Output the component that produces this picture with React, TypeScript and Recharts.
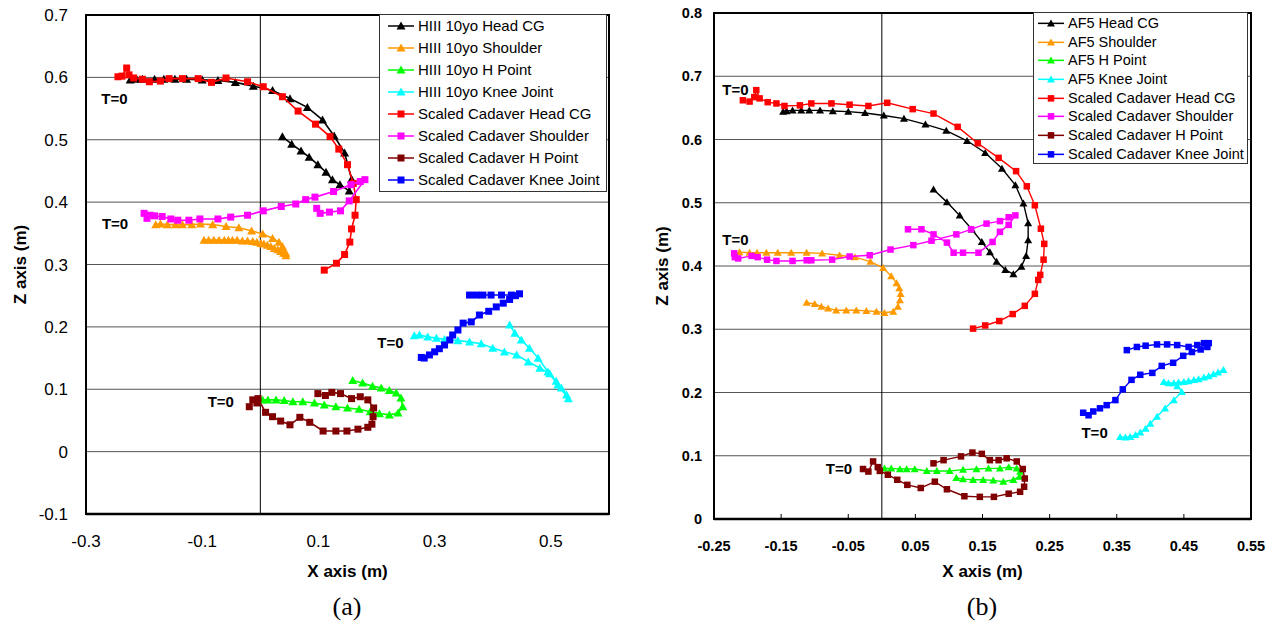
import React from 'react';
import {
  ScatterChart,
  Scatter,
  XAxis,
  YAxis,
  CartesianGrid,
  ReferenceLine,
  ReferenceArea,
  ReferenceDot,
  Legend,
} from 'recharts';

type P = [number, number];

// ---------------- Panel (a) ----------------
const namesA = [
  'HIII 10yo Head CG',
  'HIII 10yo Shoulder',
  'HIII 10yo H Point',
  'HIII 10yo Knee Joint',
  'Scaled Cadaver Head CG',
  'Scaled Cadaver Shoulder',
  'Scaled Cadaver H Point',
  'Scaled Cadaver Knee Joint',
];

const hiiiHeadA: P[] = [
  [-0.224, 0.596], [-0.213, 0.597], [-0.203, 0.597], [-0.182, 0.597], [-0.166, 0.597],
  [-0.147, 0.597], [-0.127, 0.597], [-0.100, 0.596], [-0.073, 0.595], [-0.043, 0.592],
  [-0.012, 0.586], [0.021, 0.579], [0.051, 0.566], [0.081, 0.552], [0.107, 0.532],
  [0.127, 0.506], [0.145, 0.479], [0.157, 0.437], [0.153, 0.418], [0.137, 0.428],
  [0.124, 0.436], [0.113, 0.448], [0.099, 0.460], [0.084, 0.472], [0.070, 0.482],
  [0.054, 0.493], [0.038, 0.505],
];

const hiiiShoulderA: P[] = [
  [-0.180, 0.364], [-0.172, 0.365], [-0.160, 0.364], [-0.146, 0.364], [-0.134, 0.364],
  [-0.118, 0.364], [-0.103, 0.365], [-0.082, 0.364], [-0.059, 0.361], [-0.037, 0.359],
  [-0.015, 0.354], [0.004, 0.349], [0.021, 0.342], [0.032, 0.336], [0.038, 0.329],
  [0.044, 0.318], [0.044, 0.314], [0.040, 0.318], [0.035, 0.321], [0.030, 0.324],
  [0.024, 0.326], [0.018, 0.329], [0.012, 0.331], [0.006, 0.333], [0.001, 0.334],
  [-0.006, 0.336], [-0.013, 0.337], [-0.022, 0.338], [-0.031, 0.338], [-0.040, 0.339],
  [-0.048, 0.339], [-0.055, 0.339], [-0.062, 0.339], [-0.071, 0.339], [-0.080, 0.339],
  [-0.089, 0.339], [-0.097, 0.339],
];

const hiiiHPointA: P[] = [
  [0.004, 0.083], [0.013, 0.083], [0.027, 0.083], [0.041, 0.082], [0.056, 0.080],
  [0.073, 0.080], [0.093, 0.078], [0.110, 0.075], [0.130, 0.072], [0.150, 0.070],
  [0.170, 0.068], [0.189, 0.064], [0.205, 0.061], [0.222, 0.059], [0.237, 0.062],
  [0.245, 0.072], [0.242, 0.086], [0.234, 0.094], [0.222, 0.098], [0.208, 0.102],
  [0.193, 0.105], [0.176, 0.110], [0.159, 0.114],
];

const hiiiKneeA: P[] = [
  [0.265, 0.186], [0.274, 0.187], [0.288, 0.184], [0.303, 0.182], [0.317, 0.180],
  [0.340, 0.178], [0.360, 0.176], [0.380, 0.173], [0.400, 0.166], [0.420, 0.160],
  [0.441, 0.155], [0.461, 0.144], [0.481, 0.134], [0.498, 0.125], [0.509, 0.113],
  [0.518, 0.102], [0.527, 0.091], [0.530, 0.085], [0.512, 0.107], [0.495, 0.128],
  [0.478, 0.150], [0.463, 0.166], [0.449, 0.179], [0.438, 0.190], [0.429, 0.203],
];

const cadHeadA: P[] = [
  [-0.245, 0.601], [-0.238, 0.602], [-0.230, 0.615], [-0.226, 0.604], [-0.218, 0.599],
  [-0.203, 0.597], [-0.191, 0.593], [-0.172, 0.594], [-0.157, 0.598], [-0.134, 0.598],
  [-0.107, 0.598], [-0.084, 0.592], [-0.059, 0.599], [-0.022, 0.593], [0.005, 0.585],
  [0.038, 0.569], [0.065, 0.546], [0.095, 0.525], [0.120, 0.505], [0.135, 0.485],
  [0.150, 0.460], [0.160, 0.430], [0.165, 0.404], [0.163, 0.379], [0.157, 0.357],
  [0.154, 0.336], [0.145, 0.316], [0.131, 0.302], [0.110, 0.291],
];

const cadShoulderA: P[] = [
  [-0.200, 0.382], [-0.195, 0.374], [-0.190, 0.379], [-0.182, 0.378], [-0.169, 0.377],
  [-0.154, 0.373], [-0.142, 0.371], [-0.123, 0.371], [-0.104, 0.373], [-0.073, 0.373],
  [-0.051, 0.376], [-0.022, 0.379], [0.005, 0.386], [0.036, 0.393], [0.061, 0.397],
  [0.078, 0.404], [0.094, 0.408], [0.126, 0.417], [0.156, 0.428], [0.172, 0.433],
  [0.180, 0.436], [0.153, 0.402], [0.138, 0.386], [0.119, 0.384], [0.103, 0.382],
  [0.097, 0.390],
];

const cadHPointA: P[] = [
  [-0.019, 0.072], [-0.013, 0.083], [-0.006, 0.078], [-0.004, 0.085], [0.009, 0.063],
  [0.021, 0.056], [0.035, 0.049], [0.051, 0.043], [0.068, 0.055], [0.085, 0.047],
  [0.108, 0.033], [0.130, 0.033], [0.149, 0.033], [0.168, 0.036], [0.185, 0.039],
  [0.192, 0.044], [0.194, 0.056], [0.195, 0.070], [0.185, 0.083], [0.172, 0.088],
  [0.157, 0.085], [0.138, 0.093], [0.123, 0.095], [0.112, 0.090], [0.099, 0.093],
];

const cadKneeA: P[] = [
  [0.277, 0.151], [0.282, 0.150], [0.291, 0.155], [0.300, 0.160], [0.308, 0.165],
  [0.317, 0.171], [0.326, 0.179], [0.331, 0.187], [0.340, 0.195], [0.349, 0.206],
  [0.363, 0.208], [0.377, 0.219], [0.393, 0.225], [0.406, 0.232], [0.418, 0.238],
  [0.429, 0.244], [0.439, 0.250], [0.446, 0.253], [0.432, 0.251], [0.415, 0.251],
  [0.397, 0.251], [0.383, 0.251], [0.372, 0.251], [0.360, 0.251],
];

const tZeroA: P[] = [[-0.251, 0.566], [-0.250, 0.365], [0.224, 0.175], [-0.068, 0.080]];
const xTicksA = [-0.3, -0.1, 0.1, 0.3, 0.5];
const yTicksA = [-0.1, 0, 0.1, 0.2, 0.3, 0.4, 0.5, 0.6, 0.7];

// ---------------- Panel (b) ----------------
const namesB = [
  'AF5 Head CG',
  'AF5 Shoulder',
  'AF5 H Point',
  'AF5 Knee Joint',
  'Scaled Cadaver Head CG',
  'Scaled Cadaver Shoulder',
  'Scaled Cadaver H Point',
  'Scaled Cadaver Knee Joint',
];

const af5HeadB: P[] = [
  [-0.147, 0.644], [-0.142, 0.645], [-0.133, 0.646], [-0.120, 0.646], [-0.108, 0.646],
  [-0.092, 0.646], [-0.073, 0.645], [-0.050, 0.644], [-0.025, 0.642], [0.003, 0.638],
  [0.033, 0.633], [0.065, 0.624], [0.096, 0.614], [0.127, 0.598], [0.154, 0.579],
  [0.179, 0.554], [0.199, 0.528], [0.211, 0.499], [0.218, 0.468], [0.218, 0.441],
  [0.215, 0.416], [0.208, 0.399], [0.196, 0.387], [0.184, 0.394], [0.171, 0.407],
  [0.161, 0.422], [0.149, 0.438], [0.134, 0.458], [0.116, 0.480], [0.097, 0.501],
  [0.077, 0.521],
];

const af5ShoulderB: P[] = [
  [-0.212, 0.422], [-0.197, 0.421], [-0.186, 0.421], [-0.172, 0.421], [-0.155, 0.421],
  [-0.135, 0.421], [-0.112, 0.421], [-0.089, 0.420], [-0.063, 0.417], [-0.040, 0.414],
  [-0.017, 0.407], [0.002, 0.397], [0.014, 0.384], [0.022, 0.373], [0.026, 0.365],
  [0.028, 0.356], [0.027, 0.346], [0.024, 0.336], [0.017, 0.328], [0.004, 0.326],
  [-0.008, 0.328], [-0.023, 0.329], [-0.038, 0.330], [-0.053, 0.330], [-0.068, 0.330],
  [-0.080, 0.333], [-0.090, 0.336], [-0.100, 0.340], [-0.112, 0.342],
];

const af5HPointB: P[] = [
  [0.004, 0.080], [0.014, 0.080], [0.027, 0.079], [0.037, 0.079], [0.049, 0.079],
  [0.067, 0.076], [0.082, 0.076], [0.101, 0.076], [0.121, 0.078], [0.141, 0.079],
  [0.159, 0.080], [0.176, 0.080], [0.189, 0.082], [0.201, 0.080], [0.206, 0.075],
  [0.205, 0.067], [0.196, 0.062], [0.181, 0.059], [0.166, 0.061], [0.151, 0.062],
  [0.136, 0.062], [0.121, 0.063], [0.111, 0.065],
];

const af5KneeB: P[] = [
  [0.355, 0.130], [0.363, 0.129], [0.370, 0.130], [0.378, 0.133], [0.385, 0.137],
  [0.393, 0.143], [0.400, 0.151], [0.410, 0.162], [0.422, 0.175], [0.435, 0.188],
  [0.447, 0.201], [0.440, 0.210], [0.420, 0.217], [0.427, 0.215], [0.435, 0.215],
  [0.442, 0.216], [0.450, 0.217], [0.457, 0.218], [0.465, 0.220], [0.472, 0.221],
  [0.480, 0.224], [0.487, 0.226], [0.494, 0.229], [0.501, 0.232], [0.509, 0.236],
];

const cadHeadB: P[] = [
  [-0.207, 0.662], [-0.197, 0.660], [-0.190, 0.667], [-0.187, 0.678], [-0.182, 0.665],
  [-0.170, 0.659], [-0.157, 0.657], [-0.145, 0.653], [-0.122, 0.654], [-0.105, 0.657],
  [-0.075, 0.657], [-0.048, 0.655], [-0.020, 0.653], [0.008, 0.658], [0.046, 0.648],
  [0.077, 0.641], [0.113, 0.620], [0.143, 0.594], [0.174, 0.571], [0.200, 0.550],
  [0.216, 0.526], [0.228, 0.496], [0.237, 0.459], [0.242, 0.435], [0.241, 0.410],
  [0.236, 0.386], [0.233, 0.378], [0.228, 0.356], [0.213, 0.337], [0.195, 0.324],
  [0.175, 0.313], [0.154, 0.306], [0.136, 0.301],
];

const cadShoulderB: P[] = [
  [-0.220, 0.420], [-0.219, 0.414], [-0.214, 0.412], [-0.194, 0.416], [-0.185, 0.414],
  [-0.171, 0.410], [-0.157, 0.408], [-0.133, 0.408], [-0.112, 0.409], [-0.105, 0.409],
  [-0.074, 0.410], [-0.048, 0.415], [-0.018, 0.417], [0.013, 0.426], [0.047, 0.433],
  [0.074, 0.440], [0.111, 0.450], [0.133, 0.458], [0.156, 0.467], [0.176, 0.471],
  [0.189, 0.477], [0.199, 0.480], [0.189, 0.465], [0.176, 0.454], [0.165, 0.438],
  [0.144, 0.421], [0.121, 0.421], [0.107, 0.421], [0.097, 0.437], [0.077, 0.450],
  [0.059, 0.458], [0.039, 0.458],
];

const cadHPointB: P[] = [
  [-0.028, 0.079], [-0.020, 0.075], [-0.013, 0.091], [-0.006, 0.082], [-0.003, 0.076],
  [0.009, 0.070], [0.023, 0.062], [0.038, 0.054], [0.058, 0.049], [0.079, 0.059],
  [0.097, 0.047], [0.123, 0.036], [0.146, 0.035], [0.167, 0.035], [0.189, 0.040],
  [0.206, 0.043], [0.212, 0.051], [0.213, 0.064], [0.210, 0.079], [0.201, 0.091],
  [0.186, 0.096], [0.174, 0.093], [0.161, 0.093], [0.149, 0.103], [0.135, 0.105],
  [0.118, 0.099], [0.092, 0.093], [0.077, 0.088],
];

const cadKneeB: P[] = [
  [0.300, 0.168], [0.308, 0.164], [0.315, 0.170], [0.325, 0.175], [0.335, 0.180],
  [0.348, 0.188], [0.359, 0.205], [0.372, 0.220], [0.385, 0.228], [0.403, 0.231],
  [0.417, 0.242], [0.434, 0.247], [0.449, 0.258], [0.462, 0.264], [0.475, 0.268],
  [0.485, 0.272], [0.487, 0.278], [0.480, 0.278], [0.470, 0.275], [0.457, 0.272],
  [0.440, 0.275], [0.425, 0.276], [0.410, 0.276], [0.393, 0.274], [0.380, 0.272],
  [0.365, 0.267],
];

const tZeroB: P[] = [[-0.218, 0.679], [-0.218, 0.442], [-0.064, 0.079], [0.317, 0.136]];
const xTicksB = [-0.25, -0.15, -0.05, 0.05, 0.15, 0.25, 0.35, 0.45, 0.55];
const yTicksB = [0, 0.1, 0.2, 0.3, 0.4, 0.5, 0.6, 0.7, 0.8];

// ---------------- shared styling ----------------
const seriesColors = ['#000000', '#FF9900', '#00FF00', '#00FFFF', '#FF0000', '#FF00FF', '#800000', '#0000FF'];
const seriesMarkers = ['triangle', 'triangle', 'triangle', 'triangle', 'square', 'square', 'square', 'square'];
const SANS = '"Liberation Sans", Arial, sans-serif';
const SERIF = '"Liberation Serif", "Times New Roman", serif';

type MarkerSize = { tw: number; th: number; sq: number };

function MarkerShape(props: any) {
  const { cx, cy, fill, kind, size } = props;
  if (cx == null || cy == null) return null;
  const s: MarkerSize = size;
  if (kind === 'triangle') {
    const pts = `${cx},${cy - s.th * 0.55} ${cx + s.tw / 2},${cy + s.th * 0.45} ${cx - s.tw / 2},${cy + s.th * 0.45}`;
    return <polygon points={pts} fill={fill} stroke="none" />;
  }
  return <rect x={cx - s.sq / 2} y={cy - s.sq / 2} width={s.sq} height={s.sq} fill={fill} stroke="none" />;
}

type LegendCfg = {
  left: number; top: number; width: number; height: number;
  rowH: number; padTop: number; padLeft: number; lineLen: number; gap: number; fontSize: number;
};

function LegendBox(props: { payload?: any[]; names: string[]; cfg: LegendCfg; size: MarkerSize }) {
  const { payload, names, cfg, size } = props;
  const rows = names.map((n, i) => {
    const entry = (payload || []).find((p: any) => p && p.value === n);
    const color = (entry && (entry.color || (entry.payload && entry.payload.fill))) || seriesColors[i];
    return { name: n, color, kind: seriesMarkers[i] };
  });
  return (
    <div
      style={{
        width: cfg.width,
        height: cfg.height,
        boxSizing: 'border-box',
        border: '1px solid #333',
        background: '#fff',
        paddingTop: cfg.padTop,
        fontFamily: SANS,
        fontSize: cfg.fontSize,
        color: '#000',
      }}
    >
      {rows.map((r) => (
        <div key={r.name} style={{ height: cfg.rowH, display: 'flex', alignItems: 'center', whiteSpace: 'nowrap' }}>
          <svg width={cfg.padLeft + cfg.lineLen} height={cfg.rowH} style={{ flex: 'none' }}>
            <line x1={cfg.padLeft} x2={cfg.padLeft + cfg.lineLen} y1={cfg.rowH / 2} y2={cfg.rowH / 2} stroke={r.color} strokeWidth={1.5} />
            <MarkerShape cx={cfg.padLeft + cfg.lineLen / 2} cy={cfg.rowH / 2} fill={r.color} kind={r.kind} size={size} />
          </svg>
          <span style={{ marginLeft: cfg.gap, lineHeight: `${cfg.rowH}px` }}>{r.name}</span>
        </div>
      ))}
    </div>
  );
}

type PanelCfg = {
  left: number; width: number; height: number;
  margin: { top: number; right: number; bottom: number; left: number };
  yAxisWidth: number; xAxisHeight: number;
  xDomain: [number, number]; yDomain: [number, number];
  xTicks: number[]; yTicks: number[];
  tickFont: number; tickBold: boolean;
  xTickMargin: number; yTickMargin: number;
  xTickSize: number;
  xTitleOffset: number; yTitleOffset: number;
  lineWidth: number; size: MarkerSize;
  legend: LegendCfg;
};

function Panel(props: { cfg: PanelCfg; names: string[]; data: P[][]; tZero: P[] }) {
  const { cfg, names, data, tZero } = props;
  const tickStyle = { fontSize: cfg.tickFont, fill: '#000', fontFamily: SANS, fontWeight: cfg.tickBold ? 700 : 400 };
  return (
    <div style={{ position: 'absolute', left: cfg.left, top: 0 }}>
      <ScatterChart width={cfg.width} height={cfg.height} margin={cfg.margin}>
        <CartesianGrid vertical={false} stroke="#555" strokeWidth={1} />
        <XAxis
          type="number"
          dataKey="x"
          domain={cfg.xDomain}
          ticks={cfg.xTicks}
          interval={0}
          allowDataOverflow
          height={cfg.xAxisHeight}
          axisLine={{ stroke: '#000', strokeWidth: 2.5 }}
          tickLine={cfg.xTickSize !== 0 ? { stroke: '#000', strokeWidth: 1 } : false}
          tickSize={cfg.xTickSize}
          tickMargin={cfg.xTickMargin}
          tick={tickStyle}
          tickFormatter={(v: number) => String(v)}
          label={{
            value: 'X axis (m)',
            position: 'insideBottom',
            offset: cfg.xTitleOffset,
            style: { fontSize: 17, fontWeight: 700, fill: '#000', fontFamily: SANS },
          }}
        />
        <YAxis
          type="number"
          dataKey="y"
          domain={cfg.yDomain}
          ticks={cfg.yTicks}
          interval={0}
          allowDataOverflow
          width={cfg.yAxisWidth}
          axisLine={false}
          tickLine={false}
          tickSize={0}
          tickMargin={cfg.yTickMargin}
          tick={tickStyle}
          tickFormatter={(v: number) => String(v)}
          label={{
            value: 'Z axis (m)',
            angle: -90,
            position: 'insideLeft',
            offset: cfg.yTitleOffset,
            style: { fontSize: 17, fontWeight: 700, fill: '#000', fontFamily: SANS, textAnchor: 'middle' },
          }}
        />
        <ReferenceLine x={0} stroke="#000" strokeWidth={1} />
        <ReferenceArea
          x1={cfg.xDomain[0]}
          x2={cfg.xDomain[1]}
          y1={cfg.yDomain[0]}
          y2={cfg.yDomain[1]}
          fill="none"
          fillOpacity={0}
          stroke="#000"
          strokeWidth={2}
        />
        {data.map((series, i) => (
          <Scatter
            key={names[i]}
            name={names[i]}
            data={series.map(([x, y]) => ({ x, y }))}
            fill={seriesColors[i]}
            line={{ stroke: seriesColors[i], strokeWidth: cfg.lineWidth }}
            lineType="joint"
            isAnimationActive={false}
            shape={(p: any) => (
              <MarkerShape cx={p.cx} cy={p.cy} fill={seriesColors[i]} kind={seriesMarkers[i]} size={cfg.size} />
            )}
          />
        ))}
        {tZero.map(([x, y], i) => (
          <ReferenceDot
            key={`t0-${i}`}
            x={x}
            y={y}
            r={0}
            fill="none"
            stroke="none"
            ifOverflow="visible"
            label={{ value: 'T=0', position: 'center', fontSize: 15, fontWeight: 700, fill: '#000', fontFamily: SANS }}
          />
        ))}
        <Legend
          layout="vertical"
          align="center"
          verticalAlign="middle"
          wrapperStyle={{
            left: cfg.legend.left,
            top: cfg.legend.top,
            width: cfg.legend.width,
            height: cfg.legend.height,
            right: 'auto',
            bottom: 'auto',
          }}
          content={(p: any) => <LegendBox payload={p.payload} names={names} cfg={cfg.legend} size={cfg.size} />}
        />
      </ScatterChart>
    </div>
  );
}

const cfgA: PanelCfg = {
  left: 0, width: 640, height: 600,
  margin: { top: 15, right: 31, bottom: 16, left: 0 },
  yAxisWidth: 86, xAxisHeight: 70,
  xDomain: [-0.3, 0.6], yDomain: [-0.1, 0.7],
  xTicks: xTicksA, yTicks: yTicksA,
  tickFont: 17, tickBold: false,
  xTickMargin: 21, yTickMargin: 18, xTickSize: 0,
  xTitleOffset: 7, yTitleOffset: 20,
  lineWidth: 1.6, size: { tw: 9, th: 8, sq: 7 },
  legend: { left: 379, top: 14, width: 228, height: 178, rowH: 22, padTop: 0, padLeft: 8, lineLen: 26, gap: 4, fontSize: 15 },
};

const cfgB: PanelCfg = {
  left: 640, width: 635, height: 600,
  margin: { top: 13, right: 24, bottom: 11, left: 0 },
  yAxisWidth: 74, xAxisHeight: 70,
  xDomain: [-0.25, 0.55], yDomain: [0, 0.8],
  xTicks: xTicksB, yTicks: yTicksB,
  tickFont: 14.5, tickBold: true,
  xTickMargin: 27, yTickMargin: 12, xTickSize: -5,
  xTitleOffset: 12, yTitleOffset: 22,
  lineWidth: 1.4, size: { tw: 8, th: 7, sq: 6.5 },
  legend: { left: 393, top: 12, width: 215, height: 152, rowH: 18.7, padTop: 1, padLeft: 4, lineLen: 26, gap: 4, fontSize: 14.5 },
};

const dataA: P[][] = [hiiiHeadA, hiiiShoulderA, hiiiHPointA, hiiiKneeA, cadHeadA, cadShoulderA, cadHPointA, cadKneeA];
const dataB: P[][] = [af5HeadB, af5ShoulderB, af5HPointB, af5KneeB, cadHeadB, cadShoulderB, cadHPointB, cadKneeB];

const captions = ['(a)', '(b)'];

export default function App() {
  return (
    <div style={{ position: 'absolute', left: 0, top: 0, width: 1275, height: 630, background: '#fff', overflow: 'hidden' }}>
      <Panel cfg={cfgA} names={namesA} data={dataA} tZero={tZeroA} />
      <Panel cfg={cfgB} names={namesB} data={dataB} tZero={tZeroB} />
      <div style={{ position: 'absolute', left: 297, width: 100, top: 590, textAlign: 'center', fontFamily: SERIF, fontSize: 26, lineHeight: '34px' }}>
        {captions[0]}
      </div>
      <div style={{ position: 'absolute', left: 932, width: 100, top: 590, textAlign: 'center', fontFamily: SERIF, fontSize: 26, lineHeight: '34px' }}>
        {captions[1]}
      </div>
    </div>
  );
}
